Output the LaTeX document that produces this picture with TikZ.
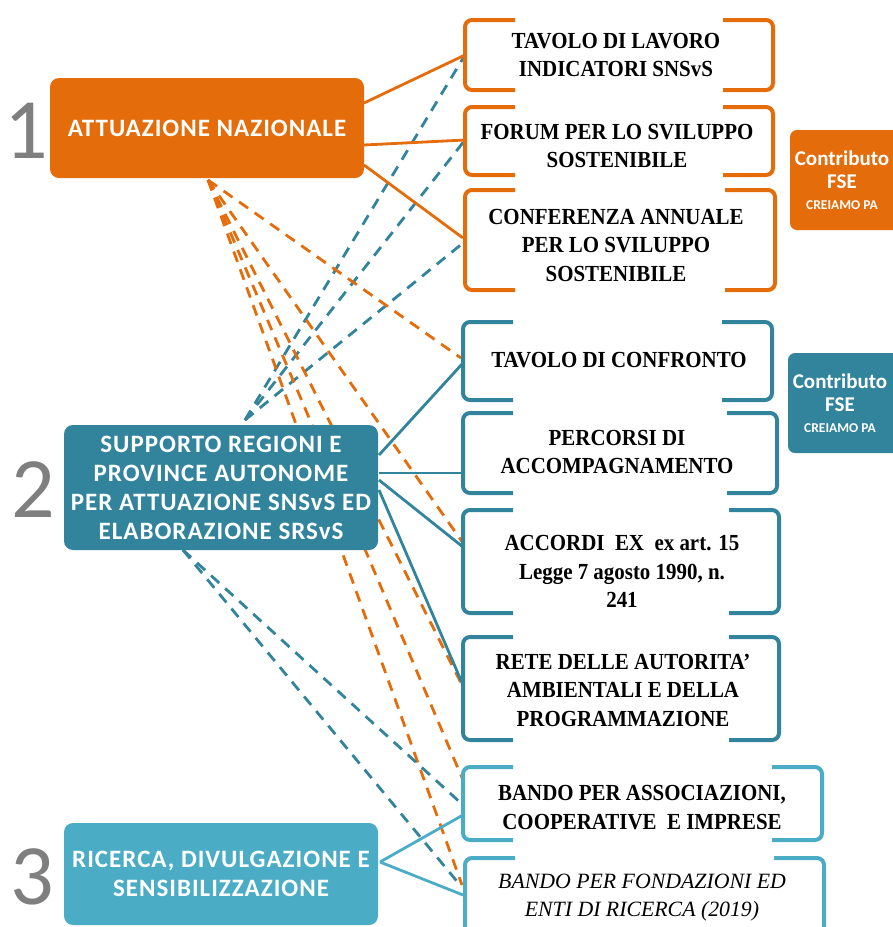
\documentclass[tikz,border=0pt]{standalone}
\usepackage{fontspec}
\setmainfont{Liberation Serif}
\newfontfamily\calfont{Carlito}
\newfontfamily\calspaced[LetterSpace=4]{Carlito}
\newfontfamily\brkfont[FakeStretch=0.91]{Liberation Serif}
\definecolor{cOr}{HTML}{E46C0A}
\definecolor{cTe}{HTML}{31849B}
\definecolor{cLb}{HTML}{4BACC6}
\definecolor{cGr}{HTML}{7F7F7F}
\tikzset{
  mainbox/.style={rounded corners=9pt, inner sep=0pt, text=white, align=center,
    font=\calspaced\bfseries\fontsize{25}{29}\selectfont},
  brktext/.style={inner sep=0pt, align=center, font=\brkfont\bfseries\fontsize{23}{28.5}\selectfont},
  brk/.style={line width=4pt, rounded corners=7pt},
  solidlink/.style={line width=2.8pt},
  dashlink/.style={line width=2.8pt, dash pattern=on 11pt off 8pt},
  numlbl/.style={text=cGr, inner sep=0pt, font=\calfont\fontsize{86}{86}\selectfont},
  fsebox/.style={rounded corners=7pt},
  fsetext/.style={text=white, align=center, inner sep=0pt, font=\calfont\bfseries\fontsize{21}{23.5}\selectfont}
}
\newcommand\brackets[5]{%
  \draw[brk,#5] ({#1+50},{#2}) -- ({#1},{#2}) -- ({#1},{#4}) -- ({#1+50},{#4});
  \draw[brk,#5] ({#3-50},{#2}) -- ({#3},{#2}) -- ({#3},{#4}) -- ({#3-50},{#4});
}
\begin{document}
\begin{tikzpicture}[x=1pt,y=-1pt]
\useasboundingbox (0,0) rectangle (893,927);

% ---------- anchor coordinates ----------
% sources
\coordinate (a1r1) at (364,103);
\coordinate (a1r2) at (364,145);
\coordinate (a1r3) at (364,165);
\coordinate (a1b) at (208,180);
\coordinate (a2t) at (245,420);
\coordinate (a2r1) at (379,455);
\coordinate (a2r2) at (379,473);
\coordinate (a2r3) at (379,480);
\coordinate (a2r4) at (379,490);
\coordinate (a2b) at (183,550);
\coordinate (a3r) at (380,862);
% targets
\coordinate (t1w) at (465,55);
\coordinate (t2w) at (465,140);
\coordinate (t3wa) at (463,238);
\coordinate (t3wb) at (463,243);
\coordinate (t4wa) at (461,358);
\coordinate (t4wb) at (463,363);
\coordinate (t5w) at (463,473);
\coordinate (t6wa) at (463,543);
\coordinate (t6wb) at (463,547);
\coordinate (t7wa) at (463,687);
\coordinate (t7wb) at (463,685);
\coordinate (t8wa) at (463,780);
\coordinate (t8wb) at (463,805);
\coordinate (t8wc) at (463,815);
\coordinate (t9wa) at (462,885);
\coordinate (t9wb) at (460,885);
\coordinate (t9wc) at (463,895);

% ---------- connectors ----------
\draw[dashlink,cTe] (a2t) -- (t1w);
\draw[dashlink,cTe] (a2t) -- (t2w);
\draw[dashlink,cTe] (a2t) -- (t3wb);
\draw[dashlink,cOr] (a1b) -- (t4wa);
\draw[dashlink,cOr] (a1b) -- (t6wa);
\draw[dashlink,cOr] (a1b) -- (t7wa);
\draw[dashlink,cOr] (a1b) -- (t8wa);
\draw[dashlink,cOr] (a1b) -- (t9wa);
\draw[dashlink,cTe] (a2b) -- (t8wb);
\draw[dashlink,cTe] (a2b) -- (t9wb);
\draw[solidlink,cOr] (a1r1) -- (t1w);
\draw[solidlink,cOr] (a1r2) -- (t2w);
\draw[solidlink,cOr] (a1r3) -- (t3wa);
\draw[solidlink,cTe] (a2r1) -- (t4wb);
\draw[solidlink,cTe] (a2r2) -- (t5w);
\draw[solidlink,cTe] (a2r3) -- (t6wb);
\draw[solidlink,cTe] (a2r4) -- (t7wb);
\draw[solidlink,cLb] (a3r) -- (t8wc);
\draw[solidlink,cLb] (a3r) -- (t9wc);

% ---------- main boxes ----------
\node[mainbox, fill=cOr, minimum width=314pt, minimum height=100pt] (b1) at (207,128) {ATTUAZIONE NAZIONALE};
\node[mainbox, fill=cTe, minimum width=314pt, minimum height=125pt] (b2) at (221,487.5)
  {SUPPORTO REGIONI E\\PROVINCE AUTONOME\\PER ATTUAZIONE SNSvS ED\\ELABORAZIONE SRSvS};
\node[mainbox, fill=cLb, minimum width=314pt, minimum height=102pt] (b3) at (221,874)
  {RICERCA, DIVULGAZIONE E\\SENSIBILIZZAZIONE};

\node[numlbl] (n1) at (26,131) {1};
\node[numlbl] (n2) at (33,490) {2};
\node[numlbl] (n3) at (32,877) {3};

% ---------- bracket boxes ----------
\brackets{465}{20}{773}{90}{cOr}
\brackets{465}{107}{773}{175}{cOr}
\brackets{465}{190}{775}{290}{cOr}
\brackets{463}{322}{772}{400}{cTe}
\brackets{463}{413}{777}{493}{cTe}
\brackets{463}{510}{779}{613}{cTe}
\brackets{463}{637}{779}{740}{cTe}
\brackets{463}{767}{822}{840}{cLb}
\brackets{465}{858}{824}{950}{cLb}

\node[brktext] (t1) at (616,55) {TAVOLO DI LAVORO\\INDICATORI SNSvS};
\node[brktext] (t2) at (617,146) {FORUM PER LO SVILUPPO\\SOSTENIBILE};
\node[brktext] (t3) at (616,245) {CONFERENZA ANNUALE\\PER LO SVILUPPO\\SOSTENIBILE};
\node[brktext] (t4) at (619,360) {TAVOLO DI CONFRONTO};
\node[brktext] (t5) at (617,452) {PERCORSI DI\\ACCOMPAGNAMENTO};
\node[brktext] (t6) at (622,571.5) {ACCORDI\ \ EX\ \ ex art. 15\\Legge 7 agosto 1990, n.\\241};
\node[brktext] (t7) at (623,690) {RETE DELLE AUTORITA’\\AMBIENTALI E DELLA\\PROGRAMMAZIONE};
\node[brktext] (t8) at (642,807.5) {BANDO PER ASSOCIAZIONI,\\COOPERATIVE\ \ E IMPRESE};
\node[brktext, font=\itshape\fontsize{21.8}{28.5}\selectfont] (t9) at (642,897.5) {BANDO PER FONDAZIONI ED\\ENTI DI RICERCA (2019)};

% ---------- FSE boxes ----------
\fill[fsebox, cOr] (790,130) rectangle (905,230);
\fill[fsebox, cTe] (788,353) rectangle (905,453);
\node[fsetext] (f1) at (842,180) {Contributo\\FSE\\[-3pt]{\fontsize{13.5}{16}\selectfont CREIAMO PA}};
\node[fsetext] (f2) at (840,403) {Contributo\\FSE\\[-3pt]{\fontsize{13.5}{16}\selectfont CREIAMO PA}};
\end{tikzpicture}
\end{document}
